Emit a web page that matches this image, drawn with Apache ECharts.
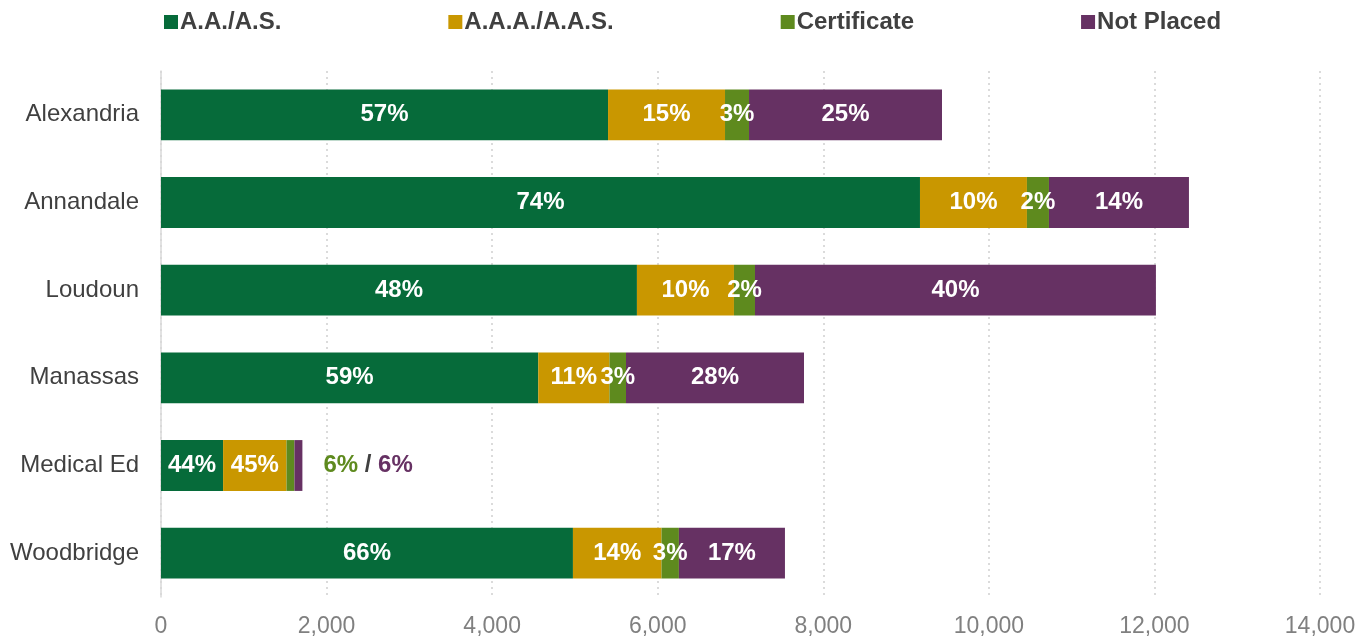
<!DOCTYPE html>
<html>
<head>
<meta charset="utf-8">
<script src="https://cdn.jsdelivr.net/npm/echarts@6/dist/echarts.min.js"></script>
<style>
  html, body { margin: 0; padding: 0; background: #fff; }
  #chart { width: 1369px; height: 640px; }
</style>
</head>
<body>
<div id="chart"></div>
<script>
var campuses = ['Alexandria', 'Annandale', 'Loudoun', 'Manassas', 'Medical Ed', 'Woodbridge'];
var seriesNames = ['A.A./A.S.', 'A.A.A./A.A.S.', 'Certificate', 'Not Placed'];
var aaAs = [5400, 9168, 5749, 4557, 750, 4976];
var aaaAas = [1413, 1292, 1172, 860, 766, 1070];
var certificate = [290, 266, 254, 200, 96, 210];
var notPlaced = [2331, 1691, 4843, 2150, 96, 1281];
var colors = ['#066b3a', '#c99700', '#5e8a1e', '#663163'];

var chart = echarts.init(document.getElementById('chart'), null, {renderer: 'canvas'});

var allValues = [aaAs, aaaAas, certificate, notPlaced];
var totals = campuses.map(function (c, i) {
    return aaAs[i] + aaaAas[i] + certificate[i] + notPlaced[i];
});

function pct(v, i) {
    return Math.round(v / totals[i] * 100) + '%';
}

var smallIdx = campuses.indexOf('Medical Ed');
var font = 'Liberation Sans';

function buildSeries(k) {
    var vals = allValues[k];
    var data = vals.map(function (v, i) {
        var item = {value: v};
        if (i === smallIdx && k >= 2) {
            if (k === 3) {
                // small segments get their labels outside the bar
                item.label = {
                    show: true,
                    position: 'right',
                    distance: 21,
                    formatter: '{c|' + pct(certificate[i], i) + '} {s|/} {p|' + pct(notPlaced[i], i) + '}',
                    rich: {
                        c: {color: colors[2], fontSize: 24, fontWeight: 'bold', fontFamily: font},
                        s: {color: '#404040', fontSize: 24, fontWeight: 'bold', fontFamily: font},
                        p: {color: colors[3], fontSize: 24, fontWeight: 'bold', fontFamily: font}
                    }
                };
            } else {
                item.label = {show: false};
            }
        }
        return item;
    });
    return {
        name: seriesNames[k],
        type: 'bar',
        stack: 'total',
        barWidth: '58%',
        itemStyle: {color: colors[k]},
        label: {
            show: true,
            position: 'inside',
            color: '#fff',
            fontSize: 24,
            fontWeight: 'bold',
            fontFamily: font,
            formatter: function (p) {
                return pct(p.value, p.dataIndex);
            }
        },
        data: data
    };
}

var option = {
    animation: false,
    color: colors,
    legend: {
        left: 159,
        top: 5,
        itemWidth: 14,
        itemHeight: 14,
        itemGap: 167,
        icon: 'rect',
        textStyle: {color: '#404040', fontSize: 24, fontWeight: 'bold', fontFamily: font, padding: [0, 0, 0, -3]},
        data: seriesNames
    },
    grid: {
        left: 161,
        right: 49,
        top: 71,
        bottom: 43
    },
    xAxis: {
        type: 'value',
        min: 0,
        max: 14000,
        interval: 2000,
        axisLine: {show: false},
        axisTick: {show: false},
        axisLabel: {
            color: '#808080',
            fontSize: 23,
            fontFamily: font,
            margin: 18,
            formatter: function (v) { return v.toLocaleString('en-US'); }
        },
        splitLine: {lineStyle: {color: '#d0d0d0', type: [2, 4], width: 1.5}}
    },
    yAxis: {
        type: 'category',
        inverse: true,
        data: campuses,
        axisLine: {show: true, lineStyle: {color: '#d9d9d9', width: 1.5}},
        axisTick: {show: false},
        axisLabel: {color: '#404040', fontSize: 24, fontFamily: font, margin: 22}
    },
    series: [0, 1, 2, 3].map(buildSeries)
};

chart.setOption(option);
</script>
</body>
</html>
